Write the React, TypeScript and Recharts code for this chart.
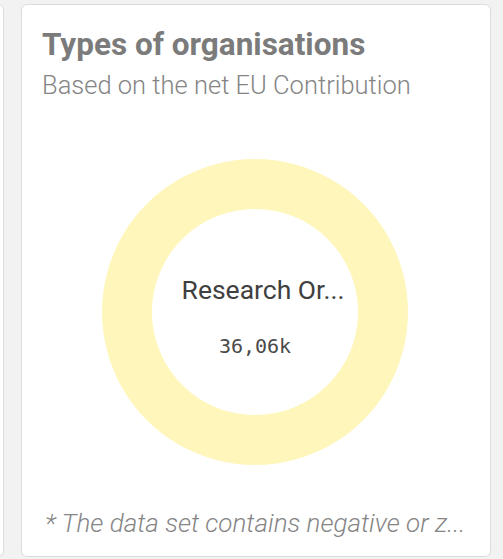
import { PieChart, Pie, Cell } from "recharts";

const categories = ["Research Organisations"];
const contributions = [36060];
const shownLabels = ["Research Or..."];
const shownValues = ["36,06k"];
const colours = ["#fff6bb"];

const pieData = categories.map((name, i) => ({ name, value: contributions[i] }));

const font = "Roboto, 'Noto Sans', sans-serif";

export default function App() {
  return (
    <div style={{ position: "absolute", left: 0, top: 0, width: 503, height: 559, background: "#f2f2f2", overflow: "hidden", fontFamily: font }}>
      {/* neighbouring card edge */}
      <div style={{ position: "absolute", left: -12, top: 4, width: 14, height: 551, background: "#fff", border: "1px solid #dcdcdc", borderRadius: 6 }} />
      <div style={{ position: "absolute", left: 21, top: 4, width: 468, height: 551, background: "#fff", border: "1px solid #dcdcdc", borderRadius: 6 }}>
        <div style={{ position: "absolute", left: 20, top: 21, fontSize: 31.5, fontWeight: 700, color: "#7b7b7b", whiteSpace: "nowrap" }}>
          Types of organisations
        </div>
        <div style={{ position: "absolute", left: 20, top: 65, fontSize: 25.5, fontWeight: 300, color: "#858585", whiteSpace: "nowrap" }}>
          Based on the net EU Contribution
        </div>
        <div style={{ position: "absolute", left: 0, top: 108 }}>
          <PieChart width={468} height={400} margin={{ top: 0, right: 0, bottom: 0, left: 0 }}>
            <Pie
              data={pieData}
              dataKey="value"
              nameKey="name"
              cx={233}
              cy={199}
              innerRadius={103}
              outerRadius={153}
              startAngle={90}
              endAngle={-270}
              stroke="none"
              isAnimationActive={false}
            >
              {pieData.map((d, i) => (
                <Cell key={d.name} fill={colours[i]} />
              ))}
            </Pie>
          </PieChart>
        </div>
        <div style={{ position: "absolute", left: 8, width: 466, top: 269, textAlign: "center", fontSize: 26.5, color: "#404040", whiteSpace: "nowrap" }}>
          {shownLabels[0]}
        </div>
        <div style={{ position: "absolute", left: 0, width: 466, top: 329, textAlign: "center", fontSize: 20, fontFamily: "'DejaVu Sans Mono', monospace", color: "#4a4a4a", whiteSpace: "nowrap" }}>
          {shownValues[0]}
        </div>
        <div style={{ position: "absolute", left: 23, top: 503, fontSize: 26, fontStyle: "italic", fontWeight: 300, color: "#858585", whiteSpace: "nowrap" }}>
          * The data set contains negative or z...
        </div>
      </div>
    </div>
  );
}
